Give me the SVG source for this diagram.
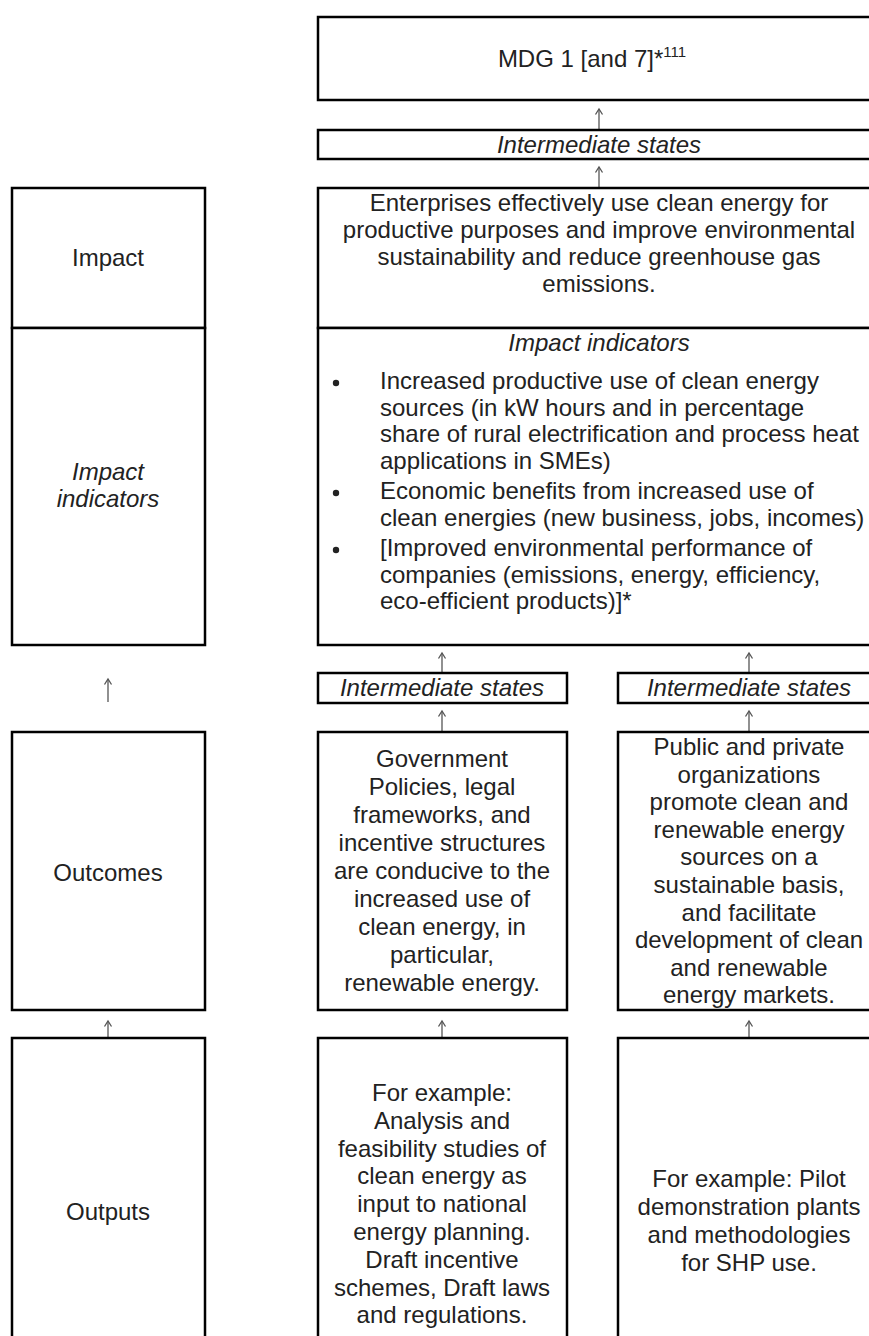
<svg xmlns="http://www.w3.org/2000/svg" width="869" height="1336" viewBox="0 0 869 1336">
  <style>
    .box { fill: #ffffff; stroke: #000000; stroke-width: 2.5; }
    .t { font-family: "Liberation Sans", Arial, Helvetica, sans-serif; font-size: 24px; fill: #222222; }
    .c { text-anchor: middle; }
    .i { font-style: italic; }
    .shaft { stroke: #555555; stroke-width: 1.3; fill: none; }
    .head { stroke: #555555; stroke-width: 1.3; fill: none; stroke-linejoin: miter; }
  </style>
  <defs>
    <!-- small open arrowhead, tip at the origin, pointing up -->
    <path id="up" class="head" d="M-3.5,5.5 L0,0 L3.5,5.5"/>
  </defs>

  <rect x="0" y="0" width="869" height="1336" fill="#ffffff"/>

  <!-- connectors: shaft from the lower box up toward the upper box, head near the top -->
  <g id="connectors">
    <line class="shaft" x1="599" y1="130" x2="599" y2="109"/><use href="#up" x="599" y="109"/>
    <line class="shaft" x1="599" y1="188" x2="599" y2="167"/><use href="#up" x="599" y="167"/>
    <line class="shaft" x1="442" y1="673" x2="442" y2="653"/><use href="#up" x="442" y="653"/>
    <line class="shaft" x1="749" y1="673" x2="749" y2="653"/><use href="#up" x="749" y="653"/>
    <line class="shaft" x1="442" y1="732" x2="442" y2="711"/><use href="#up" x="442" y="711"/>
    <line class="shaft" x1="749" y1="732" x2="749" y2="711"/><use href="#up" x="749" y="711"/>
    <line class="shaft" x1="108" y1="702" x2="108" y2="679"/><use href="#up" x="108" y="679"/>
    <line class="shaft" x1="108" y1="1038" x2="108" y2="1021"/><use href="#up" x="108" y="1021"/>
    <line class="shaft" x1="442" y1="1038" x2="442" y2="1021"/><use href="#up" x="442" y="1021"/>
    <line class="shaft" x1="749" y1="1038" x2="749" y2="1021"/><use href="#up" x="749" y="1021"/>
  </g>

  <!-- left column: level labels -->
  <g id="impact-label">
    <rect class="box" x="12" y="188" width="193" height="140"/>
    <text class="t c" x="108" y="266">Impact</text>
  </g>
  <g id="impact-indicators-label">
    <rect class="box" x="12" y="328" width="193" height="317"/>
    <text class="t c i" x="108" y="480">Impact<tspan x="108" dy="27">indicators</tspan></text>
  </g>
  <g id="outcomes-label">
    <rect class="box" x="12" y="732" width="193" height="278"/>
    <text class="t c" x="108" y="881">Outcomes</text>
  </g>
  <g id="outputs-label">
    <rect class="box" x="12" y="1038" width="193" height="340"/>
    <text class="t c" x="108" y="1220">Outputs</text>
  </g>

  <!-- goal and impact -->
  <g id="mdg">
    <rect class="box" x="318" y="17" width="562" height="83"/>
    <text class="t c" x="592" y="67">MDG 1 [and 7]*<tspan font-size="15" dy="-10">111</tspan></text>
  </g>
  <g id="intermediate-top">
    <rect class="box" x="318" y="130" width="562" height="29"/>
    <text class="t c i" x="599" y="153">Intermediate states</text>
  </g>
  <g id="impact">
    <rect class="box" x="318" y="188" width="562" height="140"/>
    <text class="t c" x="599" y="211">Enterprises effectively use clean energy for<tspan x="599" dy="27">productive purposes and improve environmental</tspan><tspan x="599" dy="27">sustainability and reduce greenhouse gas</tspan><tspan x="599" dy="27">emissions.</tspan></text>
  </g>
  <g id="impact-indicators">
    <rect class="box" x="318" y="328" width="562" height="317"/>
    <text class="t c i" x="599" y="351">Impact indicators</text>
    <g fill="#222222">
      <circle cx="336" cy="383" r="3.2"/>
      <circle cx="336" cy="493" r="3.2"/>
      <circle cx="336" cy="550" r="3.2"/>
    </g>
    <text class="t" x="380" y="389">Increased productive use of clean energy<tspan x="380" dy="26.5">sources (in kW hours and in percentage</tspan><tspan x="380" dy="26.5">share of rural electrification and process heat</tspan><tspan x="380" dy="26.5">applications in SMEs)</tspan></text>
    <text class="t" x="380" y="499">Economic benefits from increased use of<tspan x="380" dy="26.5">clean energies (new business, jobs, incomes)</tspan></text>
    <text class="t" x="380" y="556">[Improved environmental performance of<tspan x="380" dy="26.5">companies (emissions, energy, efficiency,</tspan><tspan x="380" dy="26.5">eco-efficient products)]*</tspan></text>
  </g>

  <!-- intermediate states below the impact indicators -->
  <g id="intermediate-left">
    <rect class="box" x="318" y="673" width="249" height="30"/>
    <text class="t c i" x="442" y="696">Intermediate states</text>
  </g>
  <g id="intermediate-right">
    <rect class="box" x="618" y="673" width="262" height="30"/>
    <text class="t c i" x="749" y="696">Intermediate states</text>
  </g>

  <!-- outcomes -->
  <g id="outcome-policy">
    <rect class="box" x="318" y="732" width="249" height="278"/>
    <text class="t c" x="442" y="767">Government<tspan x="442" dy="28">Policies, legal</tspan><tspan x="442" dy="28">frameworks, and</tspan><tspan x="442" dy="28">incentive structures</tspan><tspan x="442" dy="28">are conducive to the</tspan><tspan x="442" dy="28">increased use of</tspan><tspan x="442" dy="28">clean energy, in</tspan><tspan x="442" dy="28">particular,</tspan><tspan x="442" dy="28">renewable energy.</tspan></text>
  </g>
  <g id="outcome-organizations">
    <rect class="box" x="618" y="732" width="262" height="278"/>
    <text class="t c" x="749" y="755">Public and private<tspan x="749" dy="27.6">organizations</tspan><tspan x="749" dy="27.6">promote clean and</tspan><tspan x="749" dy="27.6">renewable energy</tspan><tspan x="749" dy="27.6">sources on a</tspan><tspan x="749" dy="27.6">sustainable basis,</tspan><tspan x="749" dy="27.6">and facilitate</tspan><tspan x="749" dy="27.6">development of clean</tspan><tspan x="749" dy="27.6">and renewable</tspan><tspan x="749" dy="27.6">energy markets.</tspan></text>
  </g>

  <!-- outputs -->
  <g id="output-studies">
    <rect class="box" x="318" y="1038" width="249" height="340"/>
    <text class="t c" x="442" y="1101">For example:<tspan x="442" dy="27.8">Analysis and</tspan><tspan x="442" dy="27.8">feasibility studies of</tspan><tspan x="442" dy="27.8">clean energy as</tspan><tspan x="442" dy="27.8">input to national</tspan><tspan x="442" dy="27.8">energy planning.</tspan><tspan x="442" dy="27.8">Draft incentive</tspan><tspan x="442" dy="27.8">schemes, Draft laws</tspan><tspan x="442" dy="27.8">and regulations.</tspan></text>
  </g>
  <g id="output-pilots">
    <rect class="box" x="618" y="1038" width="262" height="340"/>
    <text class="t c" x="749" y="1187">For example: Pilot<tspan x="749" dy="28">demonstration plants</tspan><tspan x="749" dy="28">and methodologies</tspan><tspan x="749" dy="28">for SHP use.</tspan></text>
  </g>
</svg>
